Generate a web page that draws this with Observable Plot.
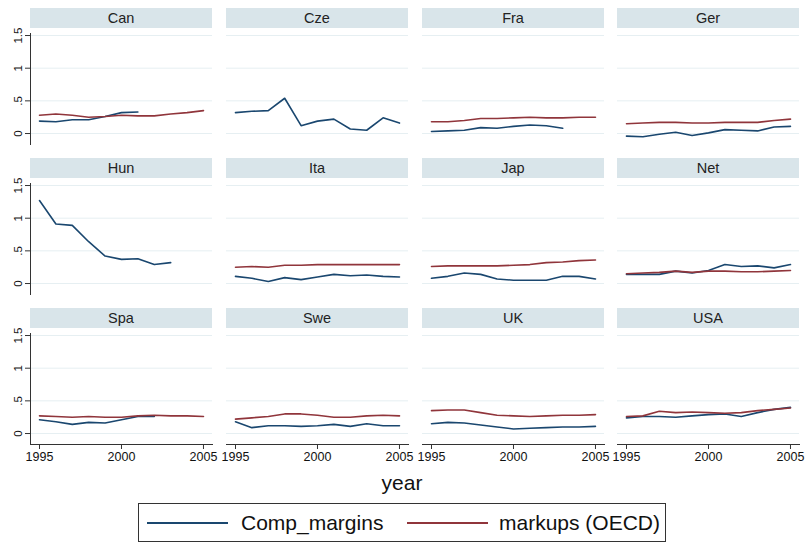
<!DOCTYPE html>
<html><head><meta charset="utf-8">
<script src="https://cdn.jsdelivr.net/npm/d3@7"></script>
<script src="https://cdn.jsdelivr.net/npm/@observablehq/plot@0.6"></script>
<style>
body{margin:0;background:#fff;font-family:"Liberation Sans",Arial,Helvetica,sans-serif;}
#chart{position:relative;width:805px;height:544px;overflow:hidden;background:#fff;}
.strip{position:absolute;height:20px;background:#d9e5ea;color:#222;font-weight:normal;font-size:14.5px;text-align:center;line-height:21px;}
.panel{position:absolute;}
.panel svg{overflow:visible;}
#xtitle{position:absolute;left:352px;width:100px;top:471px;text-align:center;font-size:21px;color:#111;}
#legend{position:absolute;left:138px;top:503px;width:528px;height:39px;border:1px solid #333;box-sizing:border-box;font-size:21px;color:#111;}
#legend .ln{position:absolute;top:18px;height:2px;}
#legend .lt{position:absolute;top:7px;line-height:24px;white-space:nowrap;}
</style></head>
<body>
<div id="chart"></div>
<script>
const years = [1995,1996,1997,1998,1999,2000,2001,2002,2003,2004,2005];
const countries = ["Can","Cze","Fra","Ger","Hun","Ita","Jap","Net","Spa","Swe","UK","USA"];
const compMargins = [
  [0.19,0.18,0.21,0.21,0.26,0.32,0.33,null,null,null,null],
  [0.32,0.34,0.35,0.54,0.12,0.19,0.22,0.07,0.05,0.24,0.16],
  [0.03,0.04,0.05,0.09,0.08,0.11,0.13,0.12,0.08,null,null],
  [-0.04,-0.05,-0.01,0.02,-0.03,0.01,0.06,0.05,0.04,0.10,0.11],
  [1.27,0.91,0.89,0.64,0.42,0.37,0.38,0.29,0.32,null,null],
  [0.11,0.08,0.03,0.09,0.06,0.10,0.14,0.12,0.13,0.11,0.10],
  [0.08,0.11,0.16,0.14,0.07,0.05,0.05,0.05,0.11,0.11,0.07],
  [0.14,0.14,0.14,0.19,0.16,0.20,0.29,0.26,0.27,0.24,0.29],
  [0.21,0.18,0.14,0.17,0.16,0.21,0.26,0.26,null,null,null],
  [0.18,0.09,0.12,0.12,0.11,0.12,0.14,0.11,0.15,0.12,0.12],
  [0.15,0.17,0.16,0.13,0.10,0.07,0.08,0.09,0.10,0.10,0.11],
  [0.24,0.26,0.26,0.25,0.27,0.29,0.30,0.26,0.32,0.37,0.40]
];
const markupsOECD = [
  [0.28,0.30,0.28,0.25,0.26,0.28,0.27,0.27,0.30,0.32,0.35],
  [null,null,null,null,null,null,null,null,null,null,null],
  [0.18,0.18,0.20,0.23,0.23,0.24,0.25,0.24,0.24,0.25,0.25],
  [0.15,0.16,0.17,0.17,0.16,0.16,0.17,0.17,0.17,0.20,0.22],
  [null,null,null,null,null,null,null,null,null,null,null],
  [0.25,0.26,0.25,0.28,0.28,0.29,0.29,0.29,0.29,0.29,0.29],
  [0.26,0.27,0.27,0.27,0.27,0.28,0.29,0.32,0.33,0.35,0.36],
  [0.15,0.16,0.17,0.19,0.17,0.19,0.19,0.18,0.18,0.19,0.20],
  [0.27,0.26,0.25,0.26,0.25,0.25,0.27,0.28,0.27,0.27,0.26],
  [0.22,0.24,0.26,0.30,0.30,0.28,0.25,0.25,0.27,0.28,0.27],
  [0.35,0.36,0.36,0.32,0.28,0.27,0.26,0.27,0.28,0.28,0.29],
  [0.26,0.27,0.34,0.32,0.33,0.32,0.31,0.32,0.35,0.37,0.39]
];
const seriesNames = ["Comp_margins","markups (OECD)"];
const seriesColors = ["#1a476f","#90353b"];
const yTicks = [0, 0.5, 1, 1.5];
const xTicks = [1995, 2000, 2005];

const colLeft = [30, 226, 422, 617];
const rowTop = [8, 158, 308];
const PW = 182, PH = 111, STRIP = 20, GAP = 5;
const fmtY = d => d === 0 ? "0" : String(d).replace(/^0\./, ".");
const font = "'Liberation Sans', Arial, Helvetica, sans-serif";

const chart = document.getElementById("chart");

countries.forEach((name, i) => {
  const r = Math.floor(i / 4), c = i % 4;
  const L = colLeft[c], T = rowTop[r];
  const strip = document.createElement("div");
  strip.className = "strip";
  strip.style.left = L + "px"; strip.style.top = T + "px"; strip.style.width = PW + "px";
  strip.textContent = name;
  chart.appendChild(strip);

  const comp = years.map((y, k) => ({year: y, value: compMargins[i][k]}));
  const mk = years.map((y, k) => ({year: y, value: markupsOECD[i][k]}));
  const ml = c === 0 ? 30 : 0;
  const mb = r === 2 ? 30 : 0;
  const mt = 2;
  const marks = [
    Plot.ruleY(yTicks, {y: d => d, stroke: "#e6eff2", strokeWidth: 1}),
    Plot.lineY(comp, {x: "year", y: "value", stroke: seriesColors[0], strokeWidth: 1.6}),
    Plot.lineY(mk, {x: "year", y: "value", stroke: seriesColors[1], strokeWidth: 1.6})
  ];
  if (c === 0) {
    marks.push(Plot.axisY(yTicks, {tickSize: 5, tickPadding: 4, tickRotate: -90, tickFormat: fmtY, fontSize: 11.5, label: null, stroke: "#333", color: "#111"}));
    marks.push(Plot.frame({anchor: "left", stroke: "#333", strokeWidth: 1}));
  }
  if (r === 2) {
    marks.push(Plot.axisX(xTicks, {tickSize: 5, tickPadding: 3, tickFormat: d => String(d), fontSize: 12.5, label: null, stroke: "#333", color: "#111"}));
    marks.push(Plot.frame({anchor: "bottom", stroke: "#333", strokeWidth: 1}));
  }
  const p = Plot.plot({
    width: ml + PW, height: mt + PH + mb,
    marginLeft: ml, marginRight: 0, marginTop: mt, marginBottom: mb,
    x: {domain: [1994.451, 2005.55], axis: r === 2 ? undefined : null},
    y: {domain: [-0.168, 1.531], axis: c === 0 ? undefined : null},
    style: {fontFamily: font, background: "transparent", overflow: "visible"},
    marks
  });
  const wrap = document.createElement("div");
  wrap.className = "panel";
  wrap.style.left = (L - ml) + "px";
  wrap.style.top = (T + STRIP + GAP - mt) + "px";
  wrap.appendChild(p);
  chart.appendChild(wrap);
});

const xt = document.createElement("div");
xt.id = "xtitle"; xt.textContent = "year";
chart.appendChild(xt);

const leg = document.createElement("div");
leg.id = "legend";
const items = [
  {line: [8, 81], text: 102},
  {line: [268, 81], text: 360}
];
seriesNames.forEach((s, k) => {
  const ln = document.createElement("div");
  ln.className = "ln";
  ln.style.left = items[k].line[0] + "px"; ln.style.width = items[k].line[1] + "px";
  ln.style.background = seriesColors[k];
  leg.appendChild(ln);
  const t = document.createElement("div");
  t.className = "lt"; t.style.left = items[k].text + "px"; t.textContent = s;
  leg.appendChild(t);
});
chart.appendChild(leg);
</script>
</body></html>
